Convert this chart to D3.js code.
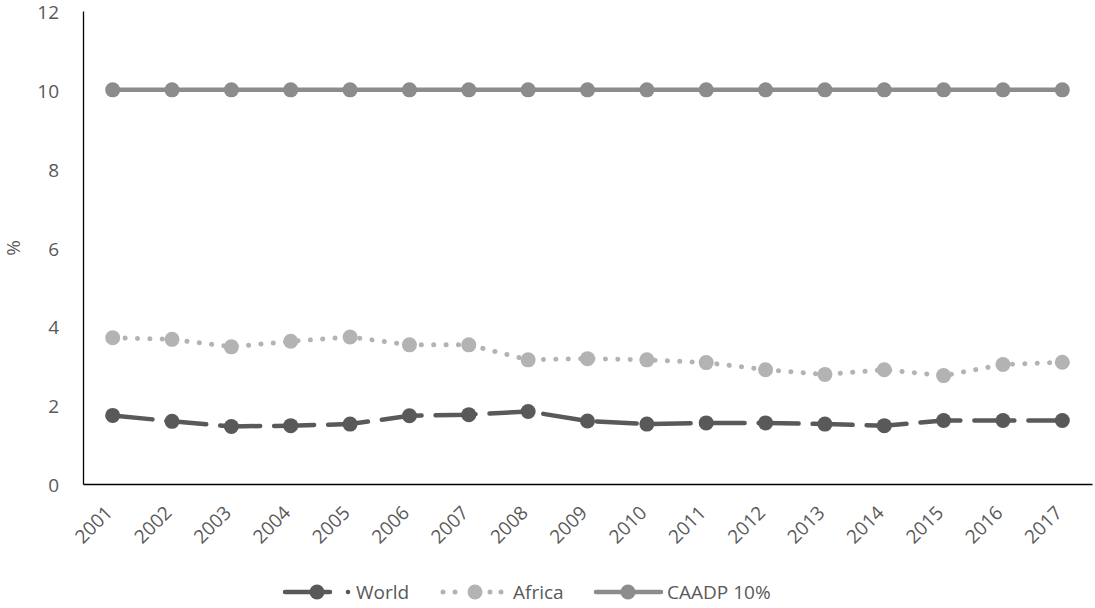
<!DOCTYPE html>
<html>
<head>
<meta charset="utf-8">
<script src="https://cdn.jsdelivr.net/npm/d3@7"></script>
<style>
  html, body { margin: 0; padding: 0; background: #fff; }
  svg { display: block; font-family: "Open Sans", "Liberation Sans", sans-serif; }
</style>
</head>
<body>
<svg id="chart" width="1095" height="608"></svg>
<script>
// Share of public spending going to agriculture, %
const years = ["2001","2002","2003","2004","2005","2006","2007","2008","2009",
               "2010","2011","2012","2013","2014","2015","2016","2017"];
const world = [1.74,1.59,1.46,1.48,1.52,1.73,1.76,1.84,1.60,1.52,1.55,1.55,1.52,1.48,1.61,1.61,1.61];
const africa = [3.71,3.67,3.48,3.62,3.73,3.53,3.53,3.15,3.18,3.15,3.08,2.90,2.78,2.90,2.75,3.03,3.09];
const caadp = [10,10,10,10,10,10,10,10,10,10,10,10,10,10,10,10,10];
const yTicks = [0,2,4,6,8,10,12];

const svg = d3.select("#chart");
const m = { left: 83, right: 1092, top: 11, bottom: 484 };
const fontSize = "19px";
const textColor = "#595959";

const x = d3.scaleBand().domain(years).range([m.left, m.right]);
const y = d3.scaleLinear().domain([0, 12]).range([m.bottom, m.top]);
const cx = d => x(d) + x.bandwidth() / 2;

// axes
const yAxis = svg.append("g").attr("transform", `translate(${m.left},0)`)
  .call(d3.axisLeft(y).tickValues(yTicks).tickSize(0).tickPadding(24));
yAxis.select(".domain").attr("stroke", "#000").attr("stroke-width", 1.3);
yAxis.selectAll("text").attr("fill", textColor).style("font-size", fontSize)
  .style("font-family", "'Open Sans', sans-serif")
  .attr("dy", "0.4em");

const xAxis = svg.append("g").attr("transform", `translate(0,${m.bottom})`)
  .call(d3.axisBottom(x).tickSize(0).tickPadding(0));
xAxis.select(".domain").attr("stroke", "#000").attr("stroke-width", 1.3);
xAxis.selectAll("text")
  .attr("fill", textColor).style("font-size", fontSize)
  .style("font-family", "'Open Sans', sans-serif")
  .attr("text-anchor", "end")
  .attr("y", 0)
  .attr("dy", "0")
  .attr("transform", "translate(1,30) rotate(-45)");

// y title
svg.append("text")
  .attr("transform", "translate(20,248) rotate(-90)")
  .attr("text-anchor", "middle")
  .attr("fill", textColor).style("font-size", fontSize)
  .text("%");

const series = [
  { name: "CAADP 10%", values: caadp, color: "#8c8c8c", dash: null, width: 4.5 },
  { name: "Africa", values: africa, color: "#b3b3b3", dash: "0.1,12.3", width: 5 },
  { name: "World", values: world, color: "#595959", dash: "40,14", width: 4.5 }
];

const line = d3.line().x((d, i) => cx(years[i])).y(d => y(d));

series.forEach(s => {
  const g = svg.append("g");
  g.append("path")
    .attr("d", line(s.values))
    .attr("fill", "none")
    .attr("stroke", s.color)
    .attr("stroke-width", s.width)
    .attr("stroke-linecap", "round")
    .attr("stroke-dasharray", s.dash);
  g.selectAll("circle").data(s.values).join("circle")
    .attr("cx", (d, i) => cx(years[i]))
    .attr("cy", d => y(d))
    .attr("r", 7.5)
    .attr("fill", s.color);
});

// legend
const ly = 592;
const legend = svg.append("g");
// World
legend.append("line").attr("x1", 285).attr("x2", 330).attr("y1", ly).attr("y2", ly)
  .attr("stroke", "#595959").attr("stroke-width", 4.5).attr("stroke-linecap", "round");
legend.append("circle").attr("cx", 317).attr("cy", ly).attr("r", 7.5).attr("fill", "#595959");
legend.append("circle").attr("cx", 348).attr("cy", ly).attr("r", 2.3).attr("fill", "#595959");
legend.append("text").attr("x", 356).attr("y", ly).attr("dy", "0.36em")
  .attr("fill", textColor).style("font-size", fontSize).text("World");
// Africa
[443, 455, 490, 501].forEach(px =>
  legend.append("circle").attr("cx", px).attr("cy", ly).attr("r", 2.5).attr("fill", "#b3b3b3"));
legend.append("circle").attr("cx", 475).attr("cy", ly).attr("r", 7.5).attr("fill", "#b3b3b3");
legend.append("text").attr("x", 513).attr("y", ly).attr("dy", "0.36em")
  .attr("fill", textColor).style("font-size", fontSize).text("Africa");
// CAADP
legend.append("line").attr("x1", 596).attr("x2", 661).attr("y1", ly).attr("y2", ly)
  .attr("stroke", "#8c8c8c").attr("stroke-width", 4.5).attr("stroke-linecap", "round");
legend.append("circle").attr("cx", 628).attr("cy", ly).attr("r", 7.5).attr("fill", "#8c8c8c");
legend.append("text").attr("x", 667).attr("y", ly).attr("dy", "0.36em")
  .attr("fill", textColor).style("font-size", fontSize).text("CAADP 10%");
</script>
</body>
</html>
